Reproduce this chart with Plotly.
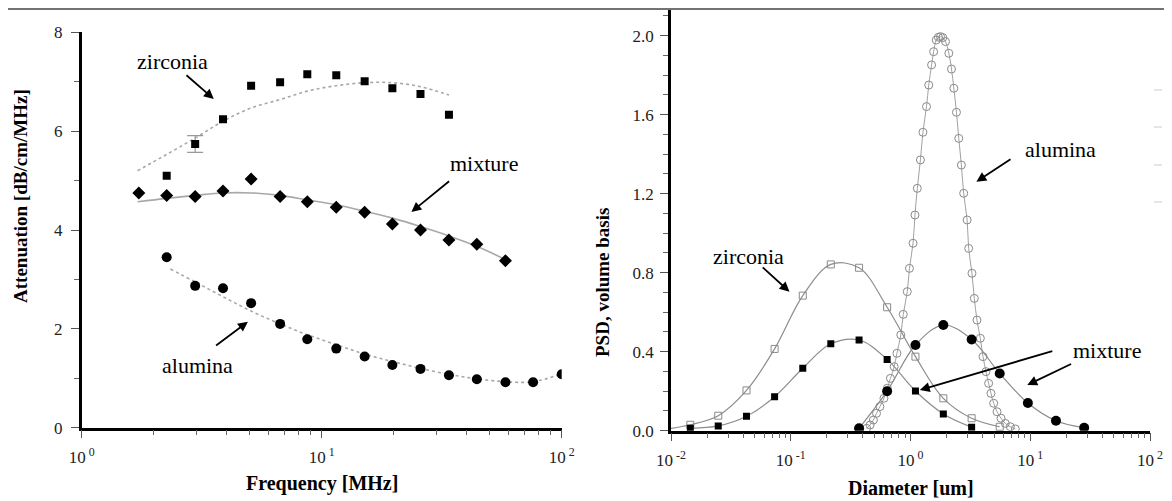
import plotly.graph_objects as go

# ---------------- data: left panel (attenuation spectra) ----------------
zirconia_freq = [2.26, 2.97, 3.88, 5.08, 6.71, 8.71, 11.5, 15.1, 19.7, 25.8, 33.9]
zirconia_att = [5.10, 5.74, 6.24, 6.92, 6.99, 7.15, 7.13, 7.01, 6.87, 6.75, 6.33]
zirconia_err = [0.0, 0.17, 0.0, 0.0, 0.0, 0.0, 0.0, 0.0, 0.0, 0.0, 0.0]

mixture_freq = [1.73, 2.26, 2.97, 3.88, 5.08, 6.71, 8.71, 11.5, 15.1, 19.7, 25.8, 33.9, 44.3, 58.3]
mixture_att = [4.75, 4.70, 4.68, 4.79, 5.03, 4.68, 4.57, 4.46, 4.36, 4.12, 4.00, 3.80, 3.71, 3.38]

alumina_freq = [2.26, 2.97, 3.88, 5.08, 6.71, 8.71, 11.5, 15.1, 19.7, 25.8, 33.9, 44.3, 58.3, 76.0, 100.0]
alumina_att = [3.45, 2.87, 2.82, 2.52, 2.10, 1.79, 1.60, 1.44, 1.27, 1.19, 1.06, 0.98, 0.92, 0.92, 1.08]

zirconia_fit_freq = [1.71, 2.26, 2.97, 3.88, 5.08, 6.71, 8.71, 11.5, 15.1, 19.7, 25.8, 33.9]
zirconia_fit = [5.20, 5.53, 5.86, 6.20, 6.47, 6.64, 6.81, 6.92, 6.98, 6.98, 6.90, 6.73]

mixture_fit_freq = [1.71, 2.26, 2.97, 3.88, 5.08, 6.71, 8.71, 11.5, 15.1, 19.7, 25.8, 33.9, 44.3, 58.3]
mixture_fit = [4.57, 4.64, 4.70, 4.75, 4.75, 4.70, 4.61, 4.51, 4.38, 4.24, 4.07, 3.88, 3.67, 3.40]

alumina_fit_freq = [2.34, 2.97, 3.88, 5.08, 6.71, 8.71, 11.5, 15.1, 19.7, 25.8, 33.9, 44.3, 58.3, 76.0, 100.0]
alumina_fit = [3.21, 2.95, 2.65, 2.36, 2.10, 1.88, 1.68, 1.49, 1.34, 1.20, 1.08, 0.99, 0.93, 0.93, 1.09]

# ---------------- data: right panel (particle size distributions) ----------------
zirconia_d = [0.0084, 0.0145, 0.0248, 0.0427, 0.0733, 0.126, 0.216, 0.372, 0.638, 1.10, 1.88, 3.24, 5.56]
zirconia_psd = [0.005, 0.030, 0.076, 0.204, 0.414, 0.684, 0.842, 0.825, 0.625, 0.375, 0.164, 0.063, 0.020]

mix_sq_d = [0.0145, 0.0248, 0.0427, 0.0733, 0.126, 0.216, 0.372, 0.638, 1.10, 1.88, 3.24]
mix_sq_psd = [0.012, 0.024, 0.073, 0.172, 0.316, 0.440, 0.459, 0.361, 0.201, 0.085, 0.018]

mix_ci_d = [0.372, 0.638, 1.10, 1.88, 3.24, 5.56, 9.55, 16.4, 28.2]
mix_ci_psd = [0.012, 0.200, 0.434, 0.535, 0.462, 0.290, 0.140, 0.050, 0.015]

alumina_d = [0.43, 0.46, 0.49, 0.52, 0.555, 0.60, 0.64, 0.68, 0.73, 0.77, 0.83, 0.87, 0.94, 0.98,
             1.05, 1.09, 1.14, 1.21, 1.27, 1.36, 1.42, 1.50, 1.56, 1.64, 1.71, 1.78, 1.86, 1.96,
             2.09, 2.20, 2.30, 2.42, 2.53, 2.66, 2.78, 2.97, 3.06, 3.26, 3.41, 3.59, 3.83, 4.03,
             4.27, 4.49, 4.70, 4.95, 5.28, 5.70, 6.19, 6.81, 7.50]
alumina_psd = [0.012, 0.029, 0.054, 0.088, 0.122, 0.164, 0.215, 0.265, 0.324, 0.392, 0.485, 0.589, 0.704, 0.822,
               0.949, 1.092, 1.227, 1.371, 1.511, 1.641, 1.750, 1.852, 1.919, 1.978, 1.992, 1.995, 1.990, 1.970,
               1.911, 1.831, 1.734, 1.612, 1.480, 1.345, 1.202, 1.067, 0.923, 0.797, 0.670, 0.560, 0.468, 0.375,
               0.299, 0.240, 0.189, 0.139, 0.096, 0.063, 0.037, 0.020, 0.009]

left_xticks = [1, 10, 100]
left_xticktext = ["10<sup> 0</sup>", "10<sup> 1</sup>", "10<sup> 2</sup>"]
left_xminor = [2, 3, 4, 5, 6, 7, 8, 9, 20, 30, 40, 50, 60, 70, 80, 90]
right_xticks = [0.01, 0.1, 1, 10, 100]
right_xticktext = ["10<sup> -2</sup>", "10<sup> -1</sup>", "10<sup> 0</sup>", "10<sup> 1</sup>", "10<sup> 2</sup>"]
right_xminor = [m * p for p in [0.01, 0.1, 1, 10] for m in [2, 3, 4, 5, 6, 7, 8, 9]]
right_yticks = [0.0, 0.4, 0.8, 1.2, 1.6, 2.0]
right_yticktext = ["0.0", "0.4", "0.8", "1.2", "1.6", "2.0"]

# ---------------- figure ----------------
# the page body has an 8px margin, so the figure is drawn from (8, 8)
OFF = 8
W, H = 1172 - OFF, 501 - OFF
SERIF = "Liberation Serif, Times New Roman, serif"
GRAY_FIT = "#a8a8a8"
GRAY_LINE = "#8c8c8c"


def px(x):
    return (x - OFF) / W


def py(y):
    return 1 - (y - OFF) / H


fig = go.Figure()

# left fits
fig.add_trace(go.Scatter(x=zirconia_fit_freq, y=zirconia_fit, mode="lines", line=dict(color=GRAY_FIT, width=1.6, dash="dot", shape="spline"),
                         xaxis="x", yaxis="y", showlegend=False, hoverinfo="skip"))
fig.add_trace(go.Scatter(x=mixture_fit_freq, y=mixture_fit, mode="lines", line=dict(color=GRAY_FIT, width=1.6, shape="spline"),
                         xaxis="x", yaxis="y", showlegend=False, hoverinfo="skip"))
fig.add_trace(go.Scatter(x=alumina_fit_freq, y=alumina_fit, mode="lines", line=dict(color=GRAY_FIT, width=1.6, dash="dot", shape="spline"),
                         xaxis="x", yaxis="y", showlegend=False, hoverinfo="skip"))

# error bar point (zirconia)
err_x = [f for f, e in zip(zirconia_freq, zirconia_err) if e > 0]
err_y = [v for v, e in zip(zirconia_att, zirconia_err) if e > 0]
err_v = [e for e in zirconia_err if e > 0]
fig.add_trace(go.Scatter(x=err_x, y=err_y, mode="markers", marker=dict(size=1, color="rgba(0,0,0,0)"),
                         error_y=dict(type="data", array=err_v, color="#999999", thickness=1.2, width=8),
                         xaxis="x", yaxis="y", showlegend=False, hoverinfo="skip"))

# left data
fig.add_trace(go.Scatter(x=zirconia_freq, y=zirconia_att, mode="markers", marker=dict(symbol="square", size=8, color="black"),
                         xaxis="x", yaxis="y", name="zirconia", showlegend=False))
fig.add_trace(go.Scatter(x=mixture_freq, y=mixture_att, mode="markers", marker=dict(symbol="diamond", size=10, color="black"),
                         xaxis="x", yaxis="y", name="mixture", showlegend=False))
fig.add_trace(go.Scatter(x=alumina_freq, y=alumina_att, mode="markers", marker=dict(symbol="circle", size=10, color="black"),
                         xaxis="x", yaxis="y", name="alumina", showlegend=False))

# right panel
fig.add_trace(go.Scatter(x=alumina_d, y=alumina_psd, mode="lines+markers",
                         line=dict(color="#a0a0a0", width=1, shape="spline"),
                         marker=dict(symbol="circle-open", size=8, color="#8a8a8a", line=dict(width=1)),
                         xaxis="x2", yaxis="y2", name="alumina", showlegend=False))
fig.add_trace(go.Scatter(x=zirconia_d, y=zirconia_psd, mode="lines+markers", cliponaxis=False,
                         line=dict(color=GRAY_LINE, width=1.2, shape="spline"),
                         marker=dict(symbol="square-open", size=7, color="#8a8a8a", line=dict(width=1)),
                         xaxis="x2", yaxis="y2", name="zirconia", showlegend=False))
fig.add_trace(go.Scatter(x=mix_sq_d, y=mix_sq_psd, mode="lines+markers",
                         line=dict(color=GRAY_LINE, width=1.2, shape="spline"),
                         marker=dict(symbol="square", size=7, color="black"),
                         xaxis="x2", yaxis="y2", name="mixture (zirconia)", showlegend=False))
fig.add_trace(go.Scatter(x=mix_ci_d, y=mix_ci_psd, mode="lines+markers",
                         line=dict(color=GRAY_LINE, width=1.2, shape="spline"),
                         marker=dict(symbol="circle", size=10, color="black"),
                         xaxis="x2", yaxis="y2", name="mixture (alumina)", showlegend=False))

tickfont = dict(family=SERIF, size=17, color="#222222")
axis_common = dict(showline=True, linewidth=2.5, linecolor="black", showgrid=False, zeroline=False,
                   ticks="outside", ticklen=8, tickwidth=1, tickcolor="#555555", tickfont=tickfont,
                   automargin=False, fixedrange=True)
minor_common = dict(ticks="outside", ticklen=5, tickwidth=1, tickcolor="#666666", showgrid=False)

fig.update_layout(
    width=W, height=H, margin=dict(l=0, r=0, t=0, b=0),
    paper_bgcolor="white", plot_bgcolor="white",
    xaxis=dict(type="log", range=[0, 2], domain=[px(81.7), px(561.7)], anchor="y",
               tickmode="array", tickvals=left_xticks, ticktext=left_xticktext, ticklabelstandoff=4,
               minor=dict(tickmode="array", tickvals=left_xminor, **minor_common),
               **axis_common),
    yaxis=dict(range=[0, 8], domain=[py(427.7), py(32.3)], anchor="x", dtick=2, tickformat="d",
               ticklabelstandoff=5,
               minor=dict(dtick=1, **minor_common), **axis_common),
    xaxis2=dict(type="log", range=[-2, 2], domain=[px(671), px(1150)], anchor="y2",
                tickmode="array", tickvals=right_xticks, ticktext=right_xticktext, ticklabelstandoff=4,
                minor=dict(tickmode="array", tickvals=right_xminor, **minor_common),
                **axis_common),
    yaxis2=dict(range=[0, 2.13], domain=[py(430.7), py(10)], anchor="x2",
                tickmode="array", tickvals=right_yticks, ticktext=right_yticktext, ticklabelstandoff=3,
                minor=dict(dtick=0.1, **minor_common), **axis_common),
)

# top rule and faint marks at right edge
shapes = [dict(type="line", xref="paper", yref="paper", x0=0, x1=1, y0=py(9), y1=py(9),
               line=dict(color="#444444", width=1.5))]
for yy in [90, 127, 165, 202]:
    shapes.append(dict(type="line", xref="paper", yref="paper", x0=px(1154), x1=px(1162), y0=py(yy), y1=py(yy),
                       line=dict(color="#cccccc", width=1)))
fig.update_layout(shapes=shapes)

labfont = dict(family=SERIF, size=22, color="black")
titlefont = dict(family=SERIF, size=19, color="black")
annotations = []

# text labels
for text, x, y in [("zirconia", 172, 62), ("mixture", 483.5, 163), ("alumina", 197, 365),
                   ("zirconia", 748, 256), ("alumina", 1060, 149), ("mixture", 1107, 350)]:
    annotations.append(dict(text=text, x=px(x), y=py(y), xref="paper", yref="paper", showarrow=False,
                            xanchor="center", yanchor="middle", font=labfont))

# arrows: (tail x, tail y, head x, head y) in pixels
for tx, ty, hx, hy in [(185, 74, 213.8, 99), (450.6, 180, 411.4, 212), (214.6, 346.7, 247.9, 321.7),
                       (761.2, 266, 789.5, 291.7), (1012, 158.3, 976.4, 181.7),
                       (1053.8, 350.7, 919.8, 390), (1072.6, 363.3, 1027.3, 385)]:
    annotations.append(dict(text="", x=px(hx), y=py(hy), xref="paper", yref="paper", showarrow=True,
                            ax=tx - hx, ay=ty - hy, axref="pixel", ayref="pixel",
                            arrowhead=2, arrowsize=1.1, arrowwidth=1.8, arrowcolor="black"))

# axis titles
annotations += [
    dict(text="<b>Frequency [MHz]</b>", x=px(322), y=py(483), xref="paper", yref="paper", showarrow=False,
         xanchor="center", yanchor="middle", font=dict(family=SERIF, size=20, color="black")),
    dict(text="<b>Diameter [um]</b>", x=px(911), y=py(488), xref="paper", yref="paper", showarrow=False,
         xanchor="center", yanchor="middle", font=dict(family=SERIF, size=20, color="black")),
    dict(text="<b>Attenuation [dB/cm/MHz]</b>", x=px(21), y=py(196), xref="paper", yref="paper", showarrow=False,
         xanchor="center", yanchor="middle", textangle=-90, font=titlefont),
    dict(text="<b>PSD, volume basis</b>", x=px(602), y=py(283), xref="paper", yref="paper", showarrow=False,
         xanchor="center", yanchor="middle", textangle=-90, font=titlefont),
]
fig.update_layout(annotations=annotations)

fig.write_html("out.html")
